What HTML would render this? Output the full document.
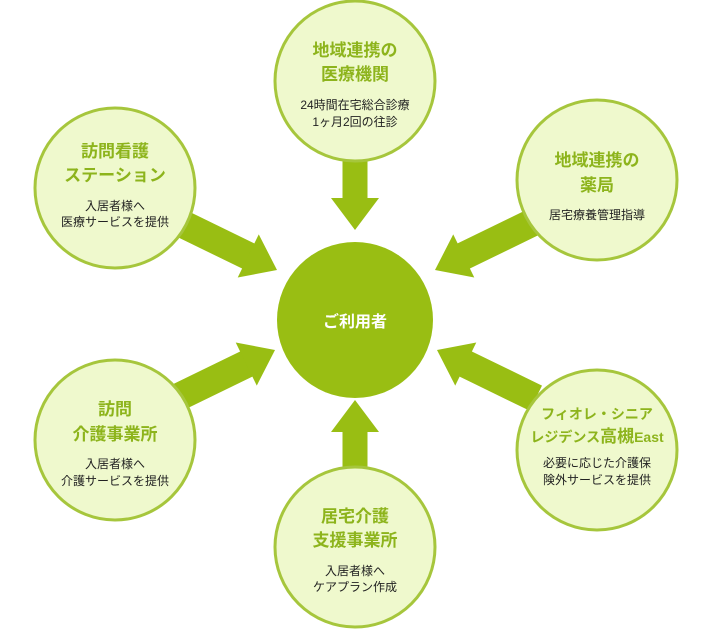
<!DOCTYPE html>
<html><head><meta charset="utf-8"><style>
html,body{margin:0;padding:0;background:#fff;width:710px;height:631px;overflow:hidden}
svg{display:block}
text{font-family:"Liberation Sans","Noto Sans CJK JP",sans-serif;text-anchor:middle}
.t{font-size:17px;font-weight:bold;fill:#8db41c}
.b{font-size:12px;fill:#222}
</style></head><body>
<svg width="710" height="631" viewBox="0 0 710 631">
<defs>
<g id="ar"><polygon points="-32,-24 0,0 -32,24" fill="#99be13"/></g>
</defs>
<g fill="#99be13">
<g transform="translate(277,270) rotate(26)"><rect x="-110" y="-14" width="80" height="28"/><use href="#ar"/></g>
<g transform="translate(435,270) rotate(154)"><rect x="-110" y="-14" width="80" height="28"/><use href="#ar"/></g>
<g transform="translate(275,350) rotate(-26)"><rect x="-110" y="-14" width="80" height="28"/><use href="#ar"/></g>
<g transform="translate(437,350) rotate(206)"><rect x="-110" y="-14" width="80" height="28"/><use href="#ar"/></g>
<g transform="translate(355,230) rotate(90)"><rect x="-72" y="-12.5" width="44" height="25"/><use href="#ar"/></g>
<g transform="translate(355,400) rotate(-90)"><rect x="-72" y="-12.5" width="44" height="25"/><use href="#ar"/></g>
</g>
<g fill="#eff9cd" stroke="#a6c63c" stroke-width="3">
<circle cx="355" cy="81" r="80"/>
<circle cx="597" cy="180" r="80"/>
<circle cx="115" cy="188" r="80"/>
<circle cx="115" cy="440" r="80"/>
<circle cx="355" cy="547" r="80"/>
<circle cx="597" cy="450" r="80"/>
</g>
<circle cx="355" cy="320" r="78" fill="#99be13"/>
<text x="355" y="327" style="font-size:16px;font-weight:bold;fill:#fff">ご利用者</text>

<text class="t" x="355" y="56">地域連携の</text>
<text class="t" x="355" y="80">医療機関</text>
<text class="b" x="355" y="109">24時間在宅総合診療</text>
<text class="b" x="355" y="126">1ヶ月2回の往診</text>

<text class="t" x="597" y="166">地域連携の</text>
<text class="t" x="597" y="191">薬局</text>
<text class="b" x="597" y="219">居宅療養管理指導</text>

<text class="t" x="115" y="157">訪問看護</text>
<text class="t" x="115" y="181">ステーション</text>
<text class="b" x="115" y="210">入居者様へ</text>
<text class="b" x="115" y="226">医療サービスを提供</text>

<text class="t" x="115" y="415">訪問</text>
<text class="t" x="115" y="440">介護事業所</text>
<text class="b" x="115" y="468">入居者様へ</text>
<text class="b" x="115" y="485">介護サービスを提供</text>

<text class="t" x="355" y="522">居宅介護</text>
<text class="t" x="355" y="546">支援事業所</text>
<text class="b" x="355" y="575">入居者様へ</text>
<text class="b" x="355" y="591">ケアプラン作成</text>

<text class="t" x="597" y="419" style="font-size:14px">フィオレ・シニア</text>
<text class="t" x="597" y="442" style="font-size:14px">レジデンス<tspan style="font-size:17px">高槻</tspan>East</text>
<text class="b" x="597" y="467">必要に応じた介護保</text>
<text class="b" x="597" y="484">険外サービスを提供</text>
</svg>
</body></html>
